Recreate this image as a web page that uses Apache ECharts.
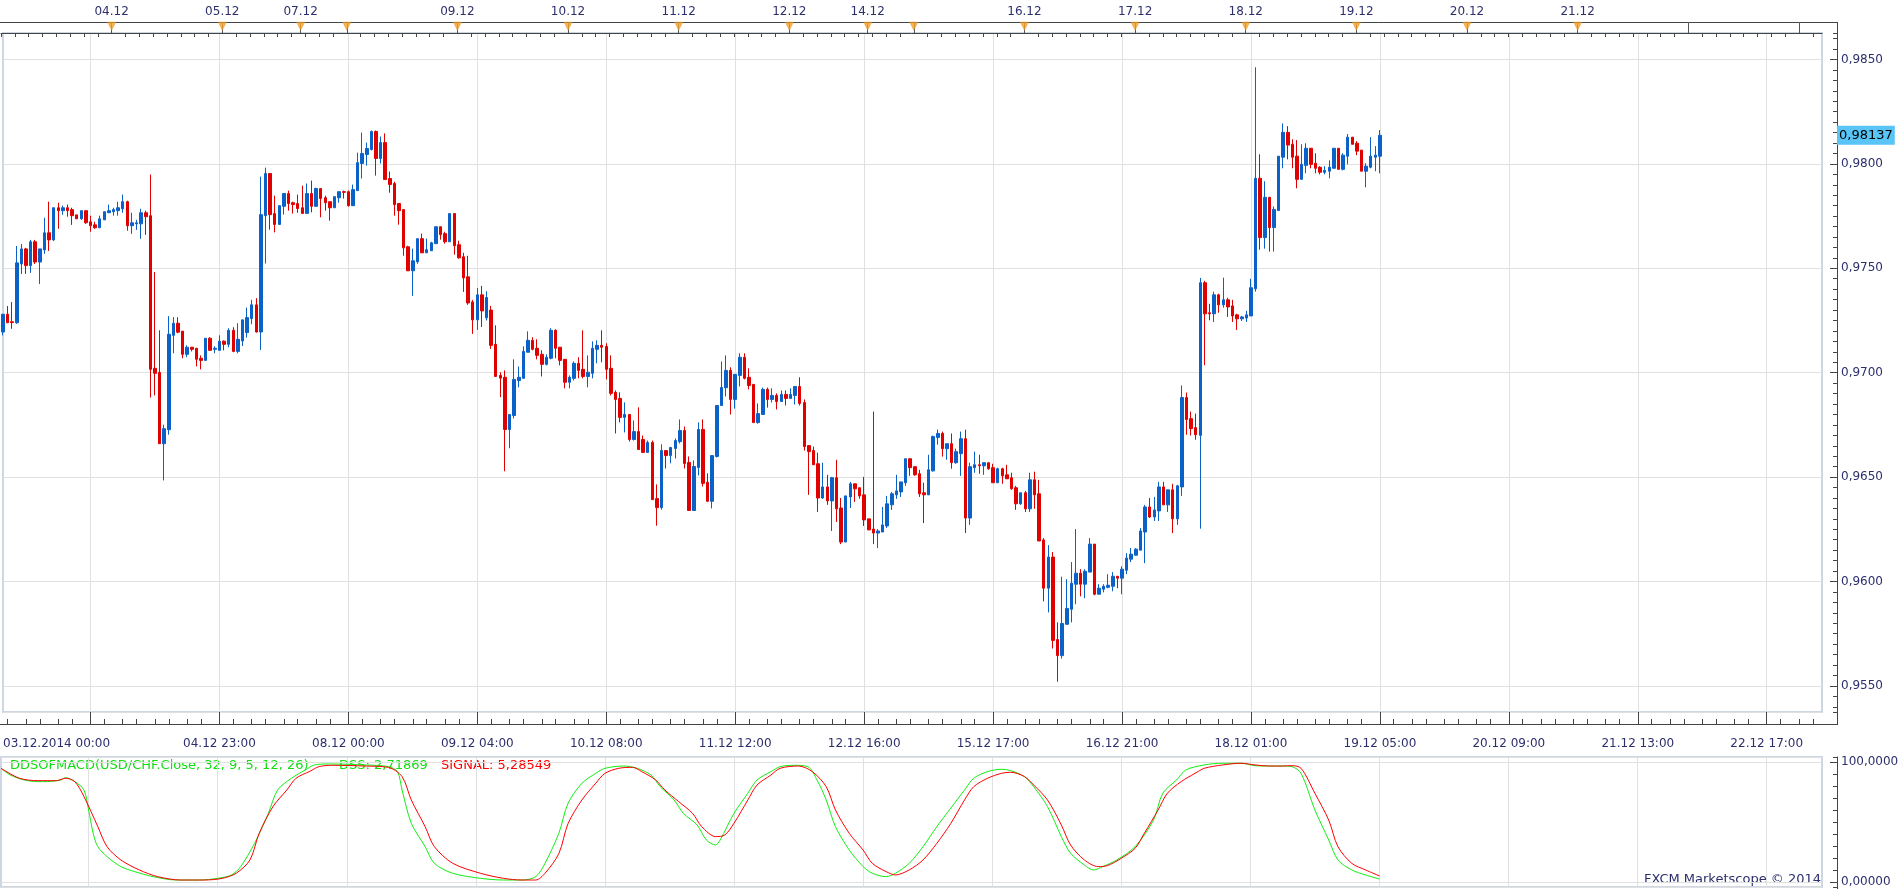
<!DOCTYPE html>
<html>
<head>
<meta charset="utf-8">
<title>USD/CHF H1</title>
<script src="https://cdn.jsdelivr.net/npm/echarts@6/dist/echarts.min.js"></script>
<style>
html, body { margin: 0; padding: 0; background: #fff; }
#chart { width: 1903px; height: 889px; }
</style>
</head>
<body>
<div id="chart"></div>
<script>
// hourly bars from 03.12.2014 00:00, row = [open, close, low, high]
var ohlc = [
[0.97195,0.97280,0.97179,0.97280],[0.97280,0.97239,0.97239,0.97319],[0.97244,0.97240,0.97210,0.97338],[0.97239,0.97526,0.97234,0.97607],
[0.97521,0.97593,0.97473,0.97617],[0.97593,0.97513,0.97473,0.97598],[0.97513,0.97627,0.97478,0.97636],[0.97627,0.97530,0.97521,0.97636],
[0.97530,0.97593,0.97425,0.97593],[0.97588,0.97670,0.97569,0.97742],[0.97670,0.97636,0.97583,0.97819],[0.97636,0.97790,0.97631,0.97790],
[0.97790,0.97776,0.97689,0.97814],[0.97776,0.97790,0.97756,0.97800],[0.97790,0.97776,0.97747,0.97805],[0.97781,0.97752,0.97708,0.97790],
[0.97756,0.97737,0.97737,0.97756],[0.97737,0.97776,0.97732,0.97776],[0.97776,0.97718,0.97713,0.97776],[0.97723,0.97704,0.97675,0.97752],
[0.97708,0.97694,0.97689,0.97723],[0.97694,0.97737,0.97694,0.97752],[0.97732,0.97771,0.97732,0.97771],[0.97766,0.97776,0.97766,0.97805],
[0.97771,0.97781,0.97752,0.97790],[0.97776,0.97790,0.97752,0.97819],[0.97785,0.97819,0.97766,0.97853],[0.97819,0.97704,0.97680,0.97824],
[0.97704,0.97718,0.97665,0.97766],[0.97713,0.97718,0.97684,0.97732],[0.97713,0.97766,0.97641,0.97785],[0.97766,0.97747,0.97660,0.97776],
[0.97752,0.97016,0.96881,0.97949],[0.97021,0.96997,0.96891,0.97482],[0.97001,0.96660,0.96660,0.97203],[0.96660,0.96732,0.96484,0.96751],
[0.96727,0.97184,0.96703,0.97271],[0.97179,0.97237,0.97093,0.97266],[0.97237,0.97194,0.97189,0.97266],[0.97199,0.97088,0.97069,0.97199],
[0.97088,0.97122,0.97074,0.97131],[0.97122,0.97112,0.97102,0.97122],[0.97117,0.97064,0.97030,0.97117],[0.97069,0.97059,0.97016,0.97083],
[0.97059,0.97165,0.97059,0.97165],[0.97165,0.97107,0.97107,0.97170],[0.97112,0.97117,0.97093,0.97127],[0.97107,0.97151,0.97107,0.97179],
[0.97151,0.97136,0.97107,0.97155],[0.97136,0.97203,0.97122,0.97213],[0.97203,0.97102,0.97098,0.97218],[0.97102,0.97160,0.97093,0.97237],
[0.97152,0.97253,0.97128,0.97253],[0.97192,0.97264,0.97168,0.97312],[0.97259,0.97325,0.97232,0.97349],[0.97325,0.97195,0.97192,0.97357],
[0.97195,0.97757,0.97109,0.97939],[0.97752,0.97954,0.97523,0.97982],[0.97954,0.97757,0.97685,0.97954],[0.97762,0.97710,0.97672,0.97848],
[0.97710,0.97800,0.97710,0.97800],[0.97797,0.97858,0.97757,0.97858],[0.97858,0.97810,0.97776,0.97872],[0.97814,0.97805,0.97762,0.97819],
[0.97810,0.97786,0.97766,0.97853],[0.97790,0.97763,0.97763,0.97896],[0.97763,0.97858,0.97763,0.97906],[0.97858,0.97797,0.97768,0.97920],
[0.97797,0.97882,0.97797,0.97886],[0.97882,0.97834,0.97744,0.97882],[0.97838,0.97814,0.97776,0.97848],[0.97819,0.97790,0.97728,0.97819],
[0.97790,0.97843,0.97790,0.97843],[0.97838,0.97867,0.97814,0.97867],[0.97867,0.97864,0.97834,0.97872],[0.97867,0.97800,0.97795,0.97872],
[0.97800,0.97877,0.97800,0.97901],[0.97872,0.98006,0.97872,0.98054],[0.98002,0.98050,0.97930,0.98150],[0.98045,0.98074,0.97992,0.98102],
[0.98069,0.98155,0.98064,0.98160],[0.98155,0.98026,0.97944,0.98160],[0.98026,0.98102,0.98002,0.98131],[0.98102,0.97925,0.97925,0.98146],
[0.97930,0.97901,0.97862,0.97963],[0.97906,0.97805,0.97752,0.97915],[0.97810,0.97776,0.97709,0.97810],[0.97781,0.97598,0.97560,0.97781],
[0.97603,0.97488,0.97488,0.97608],[0.97488,0.97536,0.97368,0.97594],[0.97531,0.97642,0.97522,0.97642],[0.97642,0.97574,0.97574,0.97666],
[0.97574,0.97589,0.97574,0.97642],[0.97584,0.97622,0.97584,0.97627],[0.97618,0.97699,0.97618,0.97699],[0.97699,0.97661,0.97637,0.97699],
[0.97666,0.97627,0.97618,0.97675],[0.97627,0.97762,0.97627,0.97762],[0.97762,0.97608,0.97565,0.97762],[0.97613,0.97550,0.97546,0.97632],
[0.97555,0.97454,0.97387,0.97574],[0.97459,0.97334,0.97325,0.97560],[0.97339,0.97253,0.97186,0.97349],[0.97253,0.97373,0.97205,0.97406],
[0.97373,0.97296,0.97219,0.97416],[0.97263,0.97360,0.97250,0.97390],[0.97300,0.97131,0.97114,0.97320],[0.97136,0.96982,0.96982,0.97227],
[0.96987,0.96974,0.96883,0.97002],[0.96978,0.96728,0.96528,0.97011],[0.96728,0.96800,0.96638,0.96800],[0.96795,0.96968,0.96781,0.97064],
[0.96963,0.96978,0.96930,0.97030],[0.96973,0.97102,0.96973,0.97126],[0.97098,0.97155,0.97098,0.97198],[0.97155,0.97112,0.97107,0.97170],
[0.97117,0.97083,0.97064,0.97160],[0.97088,0.97040,0.96982,0.97107],[0.97040,0.97074,0.97035,0.97088],[0.97069,0.97203,0.97064,0.97213],
[0.97203,0.97117,0.97069,0.97208],[0.97122,0.97059,0.97035,0.97122],[0.97064,0.96954,0.96925,0.97064],[0.96954,0.96978,0.96925,0.96987],
[0.96973,0.97045,0.96963,0.97054],[0.97045,0.97011,0.96973,0.97074],[0.97016,0.96982,0.96973,0.97203],[0.96982,0.97002,0.96930,0.97083],
[0.96997,0.97117,0.96973,0.97150],[0.97112,0.97131,0.97045,0.97155],[0.97131,0.97122,0.97050,0.97203],[0.97126,0.97016,0.96968,0.97141],
[0.97021,0.96901,0.96891,0.97083],[0.96906,0.96872,0.96709,0.96915],[0.96877,0.96786,0.96762,0.96906],[0.96786,0.96800,0.96714,0.96858],
[0.96800,0.96680,0.96670,0.96800],[0.96680,0.96718,0.96675,0.96771],[0.96718,0.96632,0.96632,0.96834],[0.96680,0.96618,0.96618,0.96699],
[0.96618,0.96666,0.96618,0.96675],[0.96666,0.96392,0.96392,0.96675],[0.96397,0.96354,0.96267,0.96465],[0.96354,0.96627,0.96344,0.96657],
[0.96627,0.96603,0.96541,0.96627],[0.96603,0.96642,0.96566,0.96642],[0.96637,0.96675,0.96589,0.96685],[0.96670,0.96723,0.96661,0.96776],
[0.96723,0.96565,0.96541,0.96742],[0.96570,0.96340,0.96340,0.96599],[0.96340,0.96551,0.96340,0.96580],[0.96546,0.96728,0.96508,0.96762],
[0.96728,0.96470,0.96455,0.96776],[0.96475,0.96384,0.96384,0.96518],[0.96384,0.96603,0.96350,0.96603],[0.96599,0.96843,0.96594,0.96843],
[0.96843,0.96929,0.96843,0.97054],[0.96928,0.97011,0.96886,0.97083],[0.97011,0.96872,0.96800,0.97026],[0.96872,0.96992,0.96828,0.96992],
[0.96987,0.97074,0.96934,0.97093],[0.97074,0.96973,0.96968,0.97093],[0.96978,0.96939,0.96920,0.97021],[0.96944,0.96761,0.96761,0.96944],
[0.96761,0.96804,0.96756,0.96853],[0.96800,0.96920,0.96800,0.96929],[0.96920,0.96872,0.96833,0.96929],[0.96872,0.96891,0.96857,0.96925],
[0.96891,0.96862,0.96824,0.96901],[0.96862,0.96896,0.96862,0.96915],[0.96896,0.96877,0.96843,0.96915],[0.96877,0.96896,0.96877,0.96925],
[0.96891,0.96934,0.96848,0.96934],[0.96934,0.96853,0.96843,0.96978],[0.96857,0.96646,0.96627,0.96872],[0.96651,0.96622,0.96415,0.96651],
[0.96627,0.96559,0.96559,0.96646],[0.96564,0.96400,0.96333,0.96617],[0.96400,0.96453,0.96396,0.96569],[0.96453,0.96386,0.96367,0.96511],
[0.96386,0.96497,0.96242,0.96501],[0.96497,0.96348,0.96285,0.96583],[0.96352,0.96189,0.96179,0.96400],[0.96189,0.96410,0.96189,0.96410],
[0.96405,0.96468,0.96352,0.96477],[0.96468,0.96444,0.96381,0.96468],[0.96449,0.96410,0.96396,0.96449],[0.96415,0.96295,0.96266,0.96501],
[0.96300,0.96247,0.96247,0.96300],[0.96251,0.96232,0.96179,0.96814],[0.96232,0.96242,0.96160,0.96251],[0.96237,0.96271,0.96237,0.96357],
[0.96266,0.96372,0.96256,0.96410],[0.96367,0.96420,0.96343,0.96429],[0.96415,0.96434,0.96396,0.96511],[0.96429,0.96477,0.96405,0.96477],
[0.96473,0.96588,0.96458,0.96588],[0.96588,0.96545,0.96506,0.96588],[0.96550,0.96511,0.96506,0.96550],[0.96516,0.96420,0.96405,0.96535],
[0.96425,0.96415,0.96280,0.96473],[0.96415,0.96535,0.96415,0.96607],[0.96530,0.96694,0.96526,0.96699],[0.96690,0.96709,0.96655,0.96728],
[0.96709,0.96636,0.96598,0.96718],[0.96636,0.96660,0.96583,0.96660],[0.96660,0.96569,0.96540,0.96709],[0.96569,0.96622,0.96564,0.96636],
[0.96612,0.96684,0.96506,0.96718],[0.96684,0.96304,0.96232,0.96727],[0.96304,0.96550,0.96271,0.96569],[0.96545,0.96559,0.96521,0.96622],
[0.96559,0.96554,0.96516,0.96607],[0.96554,0.96569,0.96511,0.96569],[0.96569,0.96540,0.96535,0.96569],[0.96545,0.96473,0.96473,0.96564],
[0.96473,0.96540,0.96473,0.96545],[0.96540,0.96506,0.96468,0.96545],[0.96511,0.96492,0.96492,0.96559],[0.96497,0.96444,0.96439,0.96521],
[0.96449,0.96372,0.96343,0.96458],[0.96372,0.96425,0.96367,0.96425],[0.96425,0.96348,0.96333,0.96434],[0.96348,0.96487,0.96333,0.96521],
[0.96487,0.96415,0.96348,0.96526],[0.96420,0.96194,0.96194,0.96487],[0.96199,0.95968,0.95905,0.96208],[0.95968,0.96117,0.95852,0.96174],
[0.96117,0.95718,0.95679,0.96141],[0.95722,0.95645,0.95520,0.95804],[0.95645,0.95799,0.95631,0.96023],[0.95795,0.95871,0.95795,0.96011],
[0.95867,0.95992,0.95804,0.96093],[0.95987,0.96040,0.95891,0.96251],[0.96040,0.95987,0.95929,0.96059],[0.95987,0.96049,0.95920,0.96059],
[0.96045,0.96179,0.96045,0.96208],[0.96179,0.95939,0.95934,0.96179],[0.95939,0.95968,0.95939,0.95987],[0.95963,0.95977,0.95948,0.95987],
[0.95972,0.95982,0.95968,0.96035],[0.95977,0.96025,0.95953,0.96045],[0.96025,0.96016,0.95968,0.96025],[0.96016,0.96059,0.95939,0.96073],
[0.96054,0.96112,0.96035,0.96136],[0.96107,0.96131,0.96093,0.96160],[0.96126,0.96155,0.96126,0.96160],[0.96150,0.96242,0.96150,0.96256],
[0.96237,0.96357,0.96088,0.96367],[0.96357,0.96309,0.96304,0.96400],[0.96309,0.96343,0.96290,0.96405],[0.96338,0.96453,0.96290,0.96477],
[0.96453,0.96367,0.96367,0.96477],[0.96367,0.96439,0.96333,0.96439],[0.96439,0.96300,0.96232,0.96468],[0.96300,0.96458,0.96271,0.96463],
[0.96453,0.96881,0.96410,0.96939],[0.96881,0.96776,0.96703,0.96905],[0.96780,0.96732,0.96699,0.96814],[0.96737,0.96703,0.96679,0.96804],
[0.96700,0.97431,0.96253,0.97454],[0.97431,0.97282,0.97036,0.97440],[0.97287,0.97282,0.97251,0.97330],[0.97282,0.97373,0.97243,0.97388],
[0.97373,0.97325,0.97287,0.97378],[0.97325,0.97349,0.97311,0.97455],[0.97349,0.97315,0.97267,0.97359],[0.97320,0.97272,0.97243,0.97349],
[0.97277,0.97258,0.97205,0.97282],[0.97258,0.97267,0.97248,0.97272],[0.97262,0.97277,0.97243,0.97296],[0.97272,0.97407,0.97272,0.97450],
[0.97402,0.97931,0.97388,0.98463],[0.97931,0.97647,0.97589,0.98046],[0.97647,0.97840,0.97594,0.97917],[0.97840,0.97695,0.97580,0.97840],
[0.97695,0.97782,0.97580,0.97796],[0.97777,0.98037,0.97777,0.98037],[0.98032,0.98151,0.97979,0.98194],[0.98151,0.98090,0.98022,0.98181],
[0.98094,0.98032,0.97979,0.98118],[0.98037,0.97926,0.97883,0.98114],[0.97926,0.97998,0.97926,0.98094],[0.97993,0.98075,0.97955,0.98099],
[0.98075,0.97998,0.97979,0.98075],[0.98003,0.97979,0.97955,0.98051],[0.97984,0.97960,0.97950,0.97989],[0.97960,0.97969,0.97950,0.97989],
[0.97965,0.97984,0.97931,0.98017],[0.97979,0.98075,0.97979,0.98075],[0.98075,0.97974,0.97974,0.98075],[0.97974,0.98042,0.97969,0.98051],
[0.98037,0.98128,0.97998,0.98143],[0.98128,0.98094,0.98094,0.98128],[0.98099,0.98061,0.98042,0.98109],[0.98066,0.97965,0.97965,0.98066],
[0.97965,0.97989,0.97888,0.98003],[0.97984,0.98037,0.97979,0.98128],[0.98032,0.98042,0.97965,0.98085],[0.98037,0.98137,0.97955,0.98162]
];
var lastPrice = 0.98137;

// DDSOFMACD oscillator, [bar index, value]
var dssLine = [[0,95],[2,89.4],[5,85.3],[8,83.9],[10,83.9],[13,85.3],[14,87.2],[16,83.9],[18,76.9],[19,60.3],[20,40.8],[21,29.7],[23,21.4],[26,13.1],[29,8.9],[33,4.7],[38,1.9],[43,1.9],[47,3.3],[50,6.1],[52,13.1],[55,32.5],[58,57.5],[60,76.9],[63,86.7],[66,93.6],[68,97.8],[71,98.6],[79,97.8],[84,96.4],[86,92.2],[87,76.9],[89,49.2],[92,29.7],[94,15.8],[98,7.5],[104,3.3],[109,1.9],[113,1.9],[116,4.7],[118,15.8],[121,40.8],[123,65.8],[126,82.5],[129,90.8],[131,95],[135,96.9],[138,95],[141,89.4],[143,79.7],[146,68.6],[148,57.5],[151,47.8],[153,35.3],[155,31.1],[156,35.3],[159,57.5],[162,74.2],[164,85.3],[167,92.2],[169,96.4],[172,97.5],[175,96.4],[177,85.3],[179,68.6],[181,46.4],[184,26.9],[187,13.1],[189,7.5],[192,4.7],[194,7.5],[197,15.8],[200,29.7],[203,46.4],[206,61.7],[209,76.9],[211,86.7],[214,92.2],[217,94.2],[219,93.1],[222,88.1],[224,79.7],[227,63.1],[230,38.1],[232,24.2],[235,14.4],[237,10.3],[239,13.1],[242,18.6],[246,29.7],[250,51.9],[252,74.2],[255,85.3],[257,93.6],[261,97.8],[265,99.2],[269,99.2],[272,97.2],[275,96.9],[278,96.9],[280,96.4],[282,90.8],[285,60.3],[288,35.3],[290,18.6],[293,10.3],[296,6.1],[299,2.72]];
var signalLine = [[0,95],[4,86.7],[8,84.7],[12,84.7],[14,86.7],[16,83.9],[18,71.4],[21,46.4],[23,29.7],[26,18.6],[30,10.3],[34,4.7],[39,1.9],[44,1.9],[48,3.3],[51,7.5],[54,18.6],[56,40.8],[59,63.1],[62,76.9],[64,86.7],[67,92.5],[69,96.4],[72,97.5],[79,96.9],[84,95.8],[87,88.1],[89,68.6],[92,46.4],[94,29.7],[98,15.8],[104,7.5],[109,3.3],[113,1.9],[116,1.9],[118,7.5],[121,23.9],[123,48.9],[126,68.6],[129,82.5],[131,90.8],[134,95],[137,95.8],[139,92.2],[142,85.3],[144,76.9],[147,67.2],[150,57.5],[152,46.4],[155,38.1],[157,39.4],[159,49.2],[162,68.6],[164,81.1],[167,89.4],[169,95],[173,96.9],[176,92.2],[179,79.7],[181,60.3],[184,40.8],[187,26.9],[189,15.8],[192,8.9],[194,6.1],[197,10.3],[200,18.6],[203,32.5],[206,48.9],[209,68.6],[211,79.7],[214,86.7],[217,90.8],[219,91.7],[222,88.1],[224,81.1],[227,68.6],[230,47.8],[232,31.1],[235,18.6],[238,13.1],[240,13.9],[243,20],[246,28.3],[248,40.8],[251,60.3],[253,74.2],[256,83.9],[259,90.8],[261,95],[265,97.8],[269,99.2],[272,97.8],[275,96.9],[278,96.9],[280,97.2],[282,95],[285,74.2],[288,51.9],[290,29.7],[293,15.8],[296,10.3],[299,5.29]];

// time axis (bar index -> label), every 28 hours
var bottomTickIdx = [0, 47, 75, 103, 131, 159, 187, 215, 243, 271, 299, 327, 355, 383];
var bottomTickText = ['03.12.2014 00:00', '04.12 23:00', '08.12 00:00', '09.12 04:00', '10.12 08:00', '11.12 12:00', '12.12 16:00',
    '15.12 17:00', '16.12 21:00', '18.12 01:00', '19.12 05:00', '20.12 09:00', '21.12 13:00', '22.12 17:00'];
// day separators on the top scale
var dayIdx = [24, 48, 65, 75, 99, 123, 147, 171, 188, 198, 222, 246, 270, 294, 318, 342, 366, 390];
var dayText = ['04.12', '05.12', '07.12', '', '09.12', '10.12', '11.12', '12.12', '14.12', '', '16.12', '17.12', '18.12', '19.12', '20.12', '21.12', '', ''];
var markerCount = 16;

var slotCount = 396;
var cats = [];
for (var i = 0; i < slotCount; i++) cats.push(String(i));

var txtColor = '#2d2f6c';
var font = 'DejaVu Sans';
var gridLine = { color: '#e0e0e0', width: 1 };
var axisDark = { color: '#444', width: 1 };

function isMajor(i) { return i >= 19 && (i - 19) % 28 === 0; }
function isMinor(i) {
    var m = ((i - 19) % 28 + 28) % 28;
    return [3, 7, 10, 14, 17, 21, 24].indexOf(m) >= 0;
}
function isDay(i) { return dayIdx.indexOf(i) >= 0; }

var chart = echarts.init(document.getElementById('chart'));

chart.setOption({
    animation: false,
    backgroundColor: '#fff',
    grid: [
        { left: 1, right: 81, top: 33, bottom: 177, show: true, borderColor: '#cdd6e2', borderWidth: 2, backgroundColor: '#fff' },
        { left: 1, right: 81, top: 757, bottom: 2, show: true, borderColor: '#cdd6e2', borderWidth: 2, backgroundColor: '#fff' },
        { left: 1, right: 81, top: 22, height: 11 }
    ],
    xAxis: [
        {
            type: 'category', gridIndex: 0, data: cats, boundaryGap: false, position: 'bottom', offset: 12,
            axisLine: { lineStyle: axisDark },
            axisTick: { inside: true, length: 12, interval: function (i) { return isMajor(i); }, lineStyle: axisDark },
            axisLabel: {
                interval: function (i) { return bottomTickIdx.indexOf(i) >= 0; },
                formatter: function (v, i) { var k = bottomTickIdx.indexOf(i); return k >= 0 ? bottomTickText[k] : ''; },
                alignMinLabel: 'left',
                color: txtColor, fontFamily: font, fontSize: 12, margin: 14
            },
            splitLine: { show: true, interval: function (i) { return isMajor(i); }, lineStyle: gridLine }
        },
        {
            type: 'category', gridIndex: 0, data: cats, boundaryGap: false, position: 'bottom', offset: 12,
            axisLine: { show: false },
            axisTick: { inside: true, length: 5, interval: function (i) { return isMinor(i); }, lineStyle: axisDark },
            axisLabel: { show: false },
            splitLine: { show: false }
        },
        {
            type: 'category', gridIndex: 1, data: cats, boundaryGap: false,
            axisLine: { show: false }, axisTick: { show: false }, axisLabel: { show: false },
            splitLine: { show: true, interval: function (i) { return isMajor(i); }, lineStyle: gridLine }
        },
        {
            type: 'category', gridIndex: 2, data: cats, boundaryGap: false, position: 'top',
            axisLine: { lineStyle: axisDark },
            axisTick: { inside: true, length: 4, interval: function (i) { return i % 3 === 0 && !isDay(i); }, lineStyle: axisDark },
            axisLabel: {
                interval: function (i) { var k = dayIdx.indexOf(i); return k >= 0 && dayText[k] !== ''; },
                formatter: function (v, i) { var k = dayIdx.indexOf(i); return k >= 0 ? dayText[k] : ''; },
                color: txtColor, fontFamily: font, fontSize: 12, margin: 4
            },
            splitLine: { show: true, interval: function (i) { return isDay(i); }, lineStyle: { color: '#555', width: 1 } }
        }
    ],
    yAxis: [
        {
            type: 'value', gridIndex: 0, position: 'right', offset: 15,
            min: 0.95375, max: 0.986269, minInterval: 0.005, maxInterval: 0.005,
            axisLine: { show: true, lineStyle: axisDark },
            axisTick: { show: true, inside: true, length: 7, lineStyle: axisDark },
            axisLabel: {
                showMinLabel: false, showMaxLabel: false, margin: 4,
                color: txtColor, fontFamily: font, fontSize: 12,
                formatter: function (v) { return v.toFixed(4).replace('.', ','); }
            },
            splitLine: { show: true, lineStyle: gridLine }
        },
        {
            type: 'value', gridIndex: 0, position: 'right', offset: 15,
            min: 0.95375, max: 0.986269, minInterval: 0.0005, maxInterval: 0.0005,
            axisLine: { show: false },
            axisTick: { show: true, inside: true, length: 4, lineStyle: axisDark },
            axisLabel: { show: false }, splitLine: { show: false }
        },
        {
            type: 'value', gridIndex: 1, position: 'right', offset: 15,
            min: -3.92, max: 104.42, minInterval: 100, maxInterval: 100,
            axisLine: { show: true, lineStyle: axisDark },
            axisTick: { show: true, inside: true, length: 7, lineStyle: axisDark },
            axisLabel: {
                showMinLabel: false, showMaxLabel: false, margin: 4,
                color: txtColor, fontFamily: font, fontSize: 12,
                formatter: function (v) {
                    if (Math.abs(v - 100) < 1e-6) return '100,0000';
                    if (Math.abs(v) < 1e-6) return '0,00000';
                    return '';
                }
            },
            splitLine: { show: true, lineStyle: gridLine }
        },
        {
            type: 'value', gridIndex: 1, position: 'right', offset: 15,
            min: -3.92, max: 104.42, minInterval: 10, maxInterval: 10,
            axisLine: { show: false },
            axisTick: { show: true, inside: true, length: 4, lineStyle: axisDark },
            axisLabel: { show: false }, splitLine: { show: false }
        },
        { type: 'value', gridIndex: 2, min: 0, max: 1, show: false }
    ],
    series: [
        {
            name: 'USD/CHF', type: 'candlestick', xAxisIndex: 0, yAxisIndex: 0,
            data: ohlc, barWidth: 3,
            itemStyle: { color: '#0a62c9', color0: '#e00000', borderColor: '#0a62c9', borderColor0: '#e00000', borderWidth: 1 },
            markLine: {
                silent: true, symbol: ['none', 'none'], animation: false, precision: 5,
                lineStyle: { color: 'rgba(0,0,0,0)', width: 0 },
                label: {
                    position: 'end', distance: 15, formatter: lastPrice.toFixed(5).replace('.', ','),
                    color: '#000', backgroundColor: '#58c5f6', padding: [3, 2, 3, 2],
                    fontFamily: font, fontSize: 13
                },
                data: [{ yAxis: lastPrice }]
            }
        },
        {
            name: 'DSS', type: 'line', xAxisIndex: 2, yAxisIndex: 2, data: dssLine,
            showSymbol: false, smooth: 0.3, lineStyle: { color: '#11ee11', width: 1 }
        },
        {
            name: 'SIGNAL', type: 'line', xAxisIndex: 2, yAxisIndex: 2, data: signalLine,
            showSymbol: false, smooth: 0.3, lineStyle: { color: '#ff0000', width: 1 }
        },
        {
            name: 'days', type: 'scatter', xAxisIndex: 3, yAxisIndex: 4,
            data: dayIdx.slice(0, markerCount).map(function (d) { return [d, 0.62]; }),
            symbol: 'triangle', symbolRotate: 180, symbolSize: [8, 8],
            itemStyle: { color: '#f7a326', borderColor: '#e08b12', borderWidth: 0.5 },
            silent: true
        }
    ],
    graphic: [
        { type: 'line', shape: { x1: 0, y1: 22.5, x2: 1837.5, y2: 22.5 }, style: { stroke: '#444', lineWidth: 1 }, silent: true },
        { type: 'line', shape: { x1: 1837.5, y1: 22, x2: 1837.5, y2: 725 }, style: { stroke: '#444', lineWidth: 1 }, silent: true },
        { type: 'line', shape: { x1: 0, y1: 724.5, x2: 1837.5, y2: 724.5 }, style: { stroke: '#444', lineWidth: 1 }, silent: true },
        { type: 'line', shape: { x1: 1837.5, y1: 757, x2: 1837.5, y2: 889 }, style: { stroke: '#444', lineWidth: 1 }, silent: true },
        { type: 'text', x: 10, y: 766, style: { text: 'DDSOFMACD(USD/CHF.Close, 32, 9, 5, 12, 26)', fill: '#11dd11', font: '13px "DejaVu Sans"', textVerticalAlign: 'middle' }, silent: true },
        { type: 'text', x: 339, y: 766, style: { text: 'DSS: 2,71869', fill: '#11dd11', font: '13px "DejaVu Sans"', textVerticalAlign: 'middle' }, silent: true },
        { type: 'text', x: 441, y: 766, style: { text: 'SIGNAL: 5,28549', fill: '#ff0000', font: '13px "DejaVu Sans"', textVerticalAlign: 'middle' }, silent: true },
        { type: 'text', x: 1821, y: 880, style: { text: 'FXCM Marketscope \u00a9 2014', fill: txtColor, font: '13px "DejaVu Sans"', textAlign: 'right', textVerticalAlign: 'middle' }, silent: true }
    ]
});
</script>
</body>
</html>
